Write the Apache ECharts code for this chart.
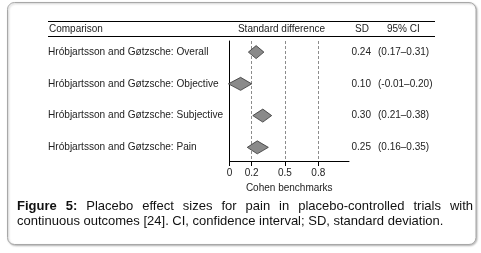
<!DOCTYPE html>
<html>
<head>
<meta charset="utf-8">
<script src="https://cdn.jsdelivr.net/npm/echarts@6/dist/echarts.min.js"></script>
<style>
  html, body { margin: 0; padding: 0; background: #fff; }
  #chart { width: 481px; height: 253px; }
</style>
</head>
<body>
<div id="chart"></div>
<script>
// rows of the forest plot
const rows = [
  'Hróbjartsson and Gøtzsche: Overall',
  'Hróbjartsson and Gøtzsche: Objective',
  'Hróbjartsson and Gøtzsche: Subjective',
  'Hróbjartsson and Gøtzsche: Pain'
]
const sdValues = [0.24, 0.10, 0.30, 0.25]
const ciLower = [0.17, -0.01, 0.21, 0.16]
const ciUpper = [0.31, 0.20, 0.38, 0.35]
const benchmarks = [0.2, 0.5, 0.8] // Cohen benchmarks (dashed lines)
const tickValues = [0, 0.2, 0.5, 0.8]

const FONT = '"Liberation Sans", Arial, sans-serif'
const captionLine1 = ['Figure', '5:', 'Placebo', 'effect', 'sizes', 'for', 'pain', 'in', 'placebo-controlled', 'trials', 'with']
const captionBold = 2 // first two words bold
const captionLine2 = 'continuous outcomes [24]. CI, confidence interval; SD, standard deviation.'

const chart = echarts.init(document.getElementById('chart'), null, { renderer: 'canvas' })

// justify the first caption line (like the journal layout)
function justifyWords(words, x0, x1, y) {
  const ctx = document.createElement('canvas').getContext('2d')
  const widths = words.map((w, i) => {
    ctx.font = (i < captionBold ? 'bold ' : '') + '13px ' + FONT
    return ctx.measureText(w).width
  })
  const total = widths.reduce((a, b) => a + b, 0)
  const gap = (x1 - x0 - total) / (words.length - 1)
  let x = x0
  return words.map((w, i) => {
    const el = {
      type: 'text', x: x, y: y,
      style: {
        text: w, font: (i < captionBold ? 'bold ' : '') + '13px ' + FONT,
        fill: '#111', textVerticalAlign: 'middle'
      }
    }
    x += widths[i] + gap
    return el
  })
}

const seriesData = sdValues.map((v, i) => [v, ciLower[i], ciUpper[i], i])

function renderRow(params, api) {
  const i = api.value(3)
  const c = api.coord([api.value(0), i])
  const l = api.coord([api.value(1), i])
  const r = api.coord([api.value(2), i])
  const h = 6.5
  const txt = { fill: '#222', font: '10px ' + FONT, textVerticalAlign: 'middle' }
  return {
    type: 'group',
    children: [
      {
        type: 'polygon',
        shape: { points: [[l[0], c[1]], [c[0], c[1] - h], [r[0], c[1]], [c[0], c[1] + h]] },
        style: { fill: '#8a8a8a', stroke: '#333', lineWidth: 0.8 }
      },
      { type: 'text', x: 48, y: c[1], style: Object.assign({}, txt, { text: rows[i], font: '10.1px ' + FONT }) },
      { type: 'text', x: 351.5, y: c[1], style: Object.assign({ text: sdValues[i].toFixed(2) }, txt) },
      {
        type: 'text', x: 378, y: c[1],
        style: Object.assign({ text: '(' + ciLower[i].toFixed(2) + '–' + ciUpper[i].toFixed(2) + ')' }, txt)
      }
    ]
  }
}

chart.setOption({
  animation: false,
  grid: { left: 229.5, top: 41, width: 119.5, height: 120 },
  xAxis: {
    type: 'value',
    min: 0,
    max: 1.077,
    name: 'Cohen benchmarks',
    nameLocation: 'middle',
    nameGap: 22,
    nameTextStyle: { fontFamily: FONT, fontSize: 10, color: '#222' },
    axisLine: { onZero: false, lineStyle: { color: '#000', width: 1 } },
    axisTick: { show: true, length: 5, customValues: tickValues, lineStyle: { color: '#000' } },
    axisLabel: {
      customValues: tickValues, margin: 7,
      fontFamily: FONT, fontSize: 10, color: '#222',
      formatter: v => (v === 0 ? '0' : v.toFixed(1))
    },
    splitLine: { show: false }
  },
  yAxis: {
    type: 'value',
    inverse: true,
    min: -0.35,
    max: 3.43,
    axisLine: { show: true, onZero: false, lineStyle: { color: '#000', width: 1 } },
    axisTick: { show: false },
    axisLabel: { show: false },
    splitLine: { show: false }
  },
  series: [{
    type: 'custom',
    clip: false,
    data: seriesData,
    encode: { x: [0, 1, 2], y: 3 },
    renderItem: renderRow,
    markLine: {
      silent: true,
      symbol: 'none',
      label: { show: false },
      lineStyle: { color: '#8c8c8c', type: [3, 2], width: 1 },
      data: benchmarks.map(b => ({ xAxis: b }))
    },
    z: 5
  }],
  graphic: [
    // frame
    {
      type: 'rect', z: -1,
      shape: { x: 7.5, y: 2.5, width: 468.5, height: 242, r: 7 },
      style: { fill: '#fff', stroke: '#a8a8a8', lineWidth: 1, shadowColor: 'rgba(0,0,0,0.25)', shadowBlur: 2, shadowOffsetX: 1, shadowOffsetY: 1 }
    },
    // header rules
    { type: 'line', shape: { x1: 48, y1: 21.5, x2: 435, y2: 21.5 }, style: { stroke: '#000', lineWidth: 1 } },
    { type: 'line', shape: { x1: 48, y1: 36.5, x2: 435, y2: 36.5 }, style: { stroke: '#000', lineWidth: 1 } },
    { type: 'text', x: 49, y: 29, style: { text: 'Comparison', font: '10px ' + FONT, fill: '#222', textVerticalAlign: 'middle' } },
    { type: 'text', x: 281.5, y: 29, style: { text: 'Standard difference', font: '10px ' + FONT, fill: '#222', textAlign: 'center', textVerticalAlign: 'middle' } },
    { type: 'text', x: 355, y: 29, style: { text: 'SD', font: '10px ' + FONT, fill: '#222', textVerticalAlign: 'middle' } },
    { type: 'text', x: 387, y: 29, style: { text: '95% CI', font: '10px ' + FONT, fill: '#222', textVerticalAlign: 'middle' } }
  ]
    .concat(justifyWords(captionLine1, 17, 473, 206.5))
    .concat([{ type: 'text', x: 17, y: 221, style: { text: captionLine2, font: '13px ' + FONT, fill: '#111', textVerticalAlign: 'middle' } }])
})
</script>
</body>
</html>
